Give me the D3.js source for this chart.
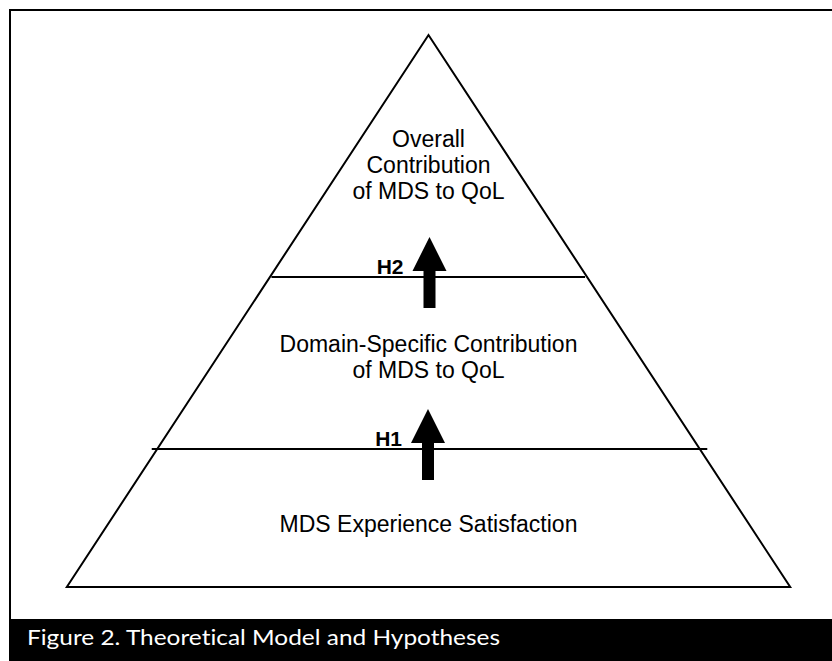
<!DOCTYPE html>
<html>
<head>
<meta charset="utf-8">
<script src="https://cdn.jsdelivr.net/npm/d3@7"></script>
<style>
	body { margin: 0; background: #fff; }
	svg { display: block; }
	.tier-label { font-family: 'Liberation Sans', Arial, sans-serif; font-size: 23px; fill: #000; }
	.hyp-label { font-family: 'Liberation Sans', Arial, sans-serif; font-size: 21px; font-weight: bold; fill: #000; }
	.caption { font-family: Lato, 'Noto Sans', sans-serif; font-size: 22px; fill: #fff; font-variant-ligatures: none; }
</style>
</head>
<body>
<div id="graphic"></div>
<script>
// pyramid tiers, bottom to top
let tiers = ['base', 'domain', 'overall'];
let tierLabels = [
	['MDS Experience Satisfaction'],
	['Domain-Specific Contribution', 'of MDS to QoL'],
	['Overall', 'Contribution', 'of MDS to QoL']
];
// tier boundaries as share of pyramid height (0 = base, 1 = apex)
let boundaries = [0, 0.25, 0.5616, 1];
// hypotheses sit on the inner boundaries
let hypotheses = ['H1', 'H2'];
let caption = 'Figure 2. Theoretical Model and Hypotheses';

let width = 832, height = 661;
let graphic = d3.select('#graphic');

function drawGraphic() {
	graphic.selectAll('*').remove();

	let svg = graphic.append('svg')
		.attr('width', width)
		.attr('height', height);

	// frame
	svg.append('rect')
		.attr('x', 10).attr('y', 10)
		.attr('width', width).attr('height', height)
		.attr('fill', '#fff')
		.attr('stroke', '#000')
		.attr('stroke-width', 2);

	let cx = 428.5;
	//level -> pixel scales
	let y = d3.scaleLinear().domain([0, 1]).range([587, 35]);
	let halfW = d3.scaleLinear().domain([0, 1]).range([361.7, 0]);

	// outline
	let outline = [
		[cx - halfW(0), y(0)],
		[cx, y(1)],
		[cx + halfW(0), y(0)]
	];
	svg.append('path')
		.attr('d', d3.line()(outline) + 'Z')
		.attr('fill', 'none')
		.attr('stroke', '#000')
		.attr('stroke-width', 2)
		.attr('stroke-linejoin', 'miter');

	// divider lines (small overshoot past the sides)
	let overshoot = [[5.5, 7.5], [-1.5, -2]];
	let inner = boundaries.slice(1, -1);
	svg.selectAll('line.divider')
		.data(inner)
		.join('line')
		.attr('class', 'divider')
		.attr('x1', (d, i) => cx - halfW(d) - overshoot[i][0])
		.attr('x2', (d, i) => cx + halfW(d) + overshoot[i][1])
		.attr('y1', (d) => y(d))
		.attr('y2', (d) => y(d))
		.attr('stroke', '#000')
		.attr('stroke-width', 2);

	// tier labels
	let firstBaseline = [532, 351.7, 146.7];
	let lineHeight = 26;
	tierLabels.forEach((lines, t) => {
		svg.append('text')
			.attr('class', 'tier-label')
			.attr('text-anchor', 'middle')
			.selectAll('tspan')
			.data(lines)
			.join('tspan')
			.attr('x', cx)
			.attr('y', (d, i) => firstBaseline[t] + i * lineHeight)
			.text((d) => d);
	});

	// arrows across each inner boundary
	let arrowCx = [428, 429.5];
	let arrow = (x0, yb) => {
		// yb = boundary pixel y; head base sits just above it
		let tip = yb - 40, headBase = yb - 6, bottom = yb + 31;
		return d3.line()([
			[x0 - 6, bottom], [x0 - 6, headBase], [x0 - 17, headBase],
			[x0, tip],
			[x0 + 17, headBase], [x0 + 6, headBase], [x0 + 6, bottom]
		]) + 'Z';
	};
	svg.selectAll('path.arrow')
		.data(inner)
		.join('path')
		.attr('class', 'arrow')
		.attr('d', (d, i) => arrow(arrowCx[i], y(d)))
		.attr('fill', '#000');

	svg.selectAll('text.hyp')
		.data(hypotheses)
		.join('text')
		.attr('class', 'hyp-label')
		.attr('text-anchor', 'end')
		.attr('x', (d, i) => arrowCx[i] - 26)
		.attr('y', (d, i) => y(inner[i]) - 3)
		.text((d) => d);

	// caption band
	svg.append('rect')
		.attr('x', 10).attr('y', 619)
		.attr('width', width - 10).attr('height', height - 619)
		.attr('fill', '#000');

	svg.append('text')
		.attr('class', 'caption')
		.attr('x', 27)
		.attr('y', 645)
		.attr('textLength', 473)
		.attr('lengthAdjust', 'spacingAndGlyphs')
		.text(caption);
}

drawGraphic();
</script>
</body>
</html>
